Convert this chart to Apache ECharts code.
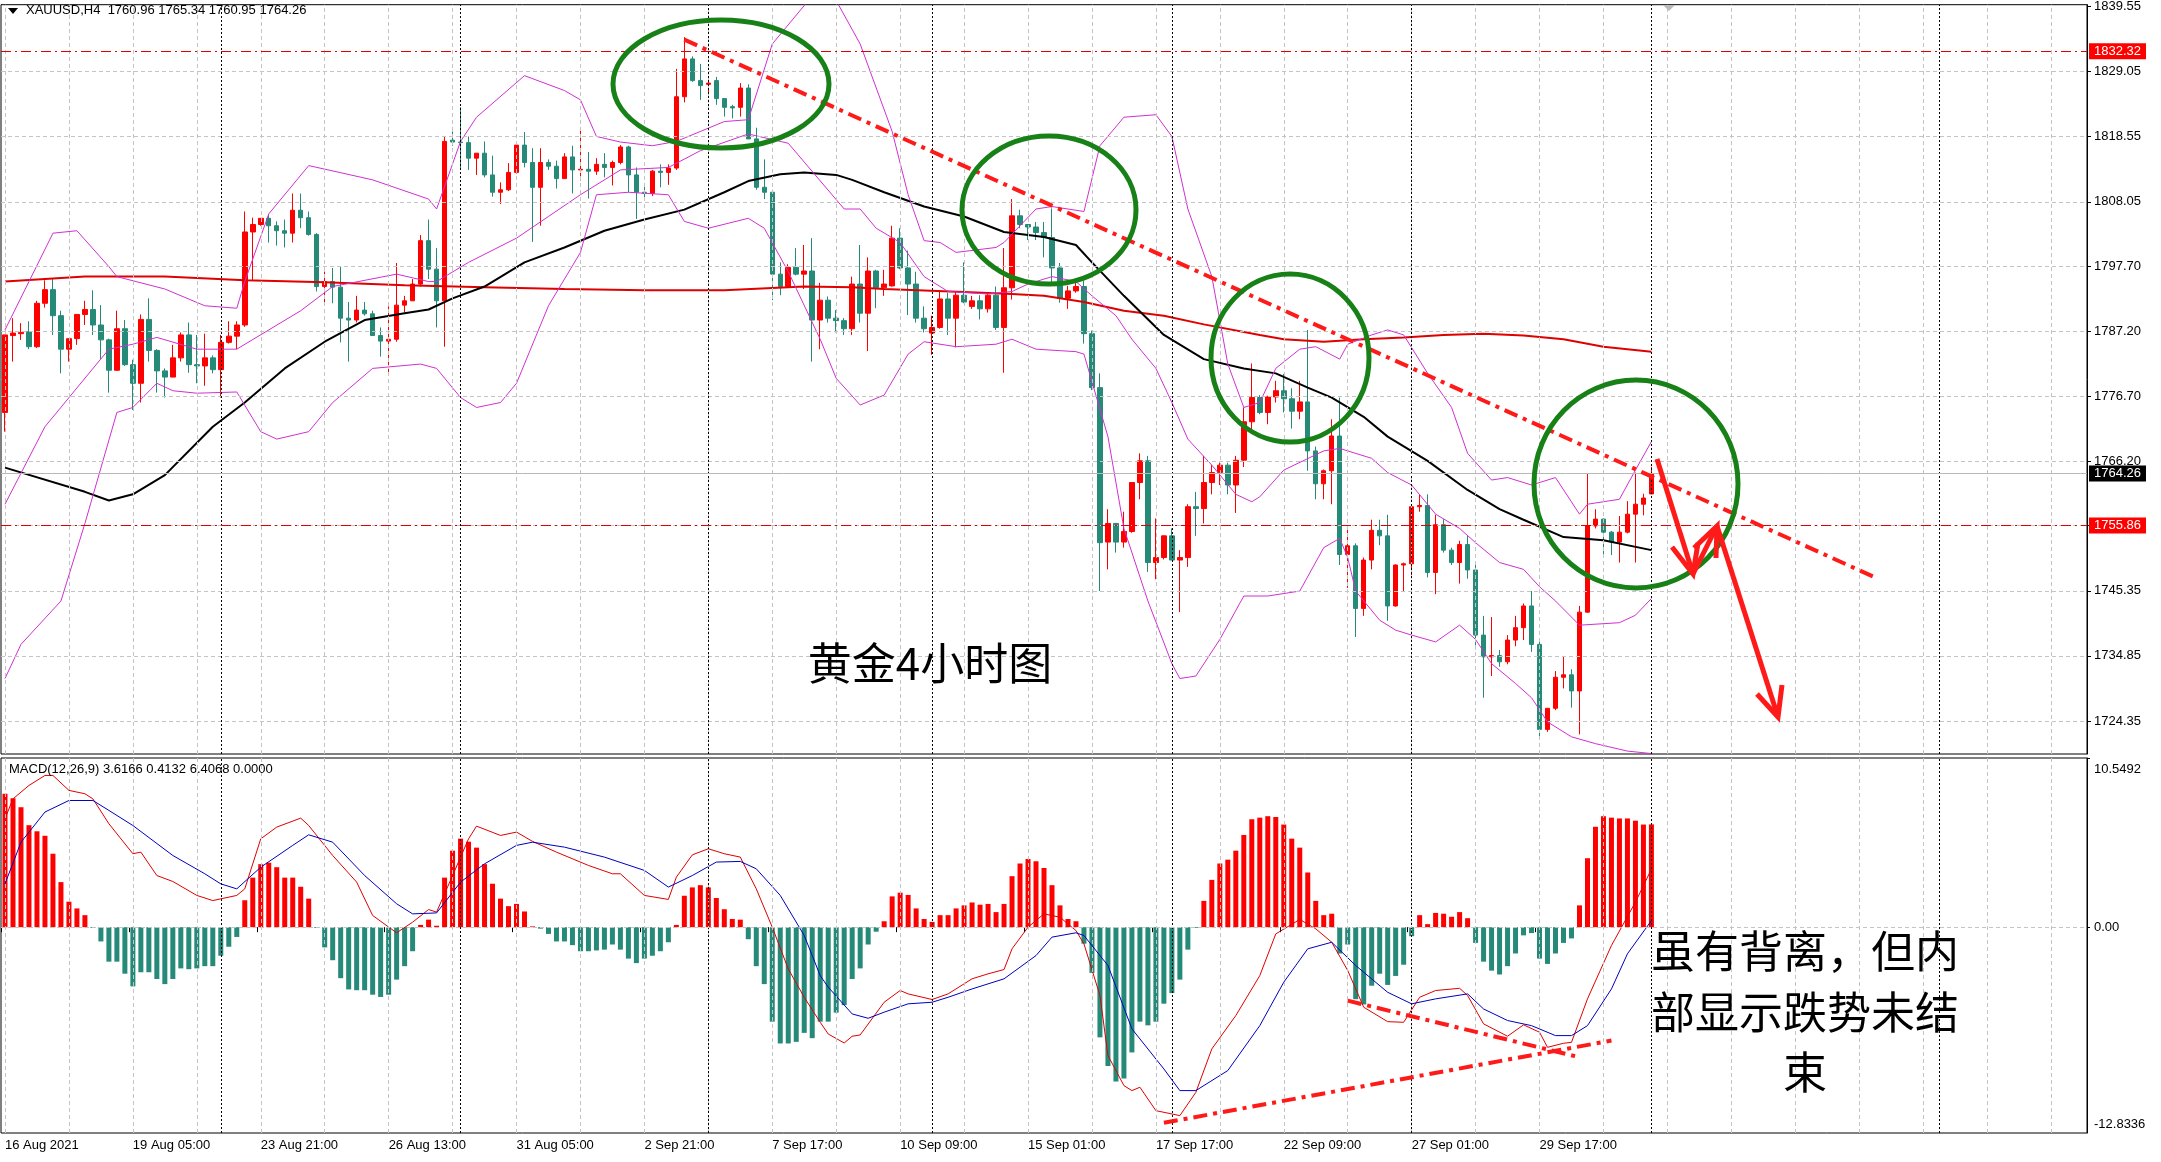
<!DOCTYPE html>
<html><head><meta charset="utf-8">
<script src="https://cdn.jsdelivr.net/npm/echarts@6/dist/echarts.min.js"></script>
<style>html,body{margin:0;padding:0;background:#fff}#c{width:2161px;height:1162px}</style>
</head><body><div id="c"></div>
<script>
const opens=[1774.1,1786.5,1786.8,1787.1,1784.7,1791.7,1793.9,1789.7,1784.3,1786.0,
1789.9,1790.7,1788.2,1785.8,1780.9,1787.6,1781.8,1778.8,1789.1,1784.1,
1780.8,1779.8,1782.9,1786.6,1781.8,1781.6,1782.9,1781.0,1785.4,1786.4,
1788.2,1803.2,1804.4,1805.4,1804.2,1803.4,1803.0,1806.7,1805.5,1802.8,
1794.4,1795.2,1794.3,1789.3,1789.0,1790.6,1790.0,1786.5,1785.6,1785.9,
1791.4,1792.1,1794.8,1801.8,1797.2,1792.1,1818.0,1817.7,1817.6,1815.1,
1815.9,1812.4,1809.6,1810.0,1812.8,1817.2,1814.4,1810.4,1814.4,1813.8,
1811.8,1815.3,1813.2,1813.3,1813.0,1814.1,1813.6,1814.4,1816.9,1812.4,
1809.6,1809.4,1813.0,1812.8,1813.5,1825.0,1831.1,1827.6,1827.0,1827.6,
1824.7,1823.4,1823.3,1826.4,1818.2,1810.4,1809.6,1796.4,1794.4,1797.5,
1796.4,1796.9,1789.0,1792.2,1789.3,1788.9,1787.6,1794.8,1790.1,1796.9,
1794.2,1794.5,1802.2,1797.4,1794.8,1789.3,1786.9,1787.8,1792.4,1789.3,
1793.0,1791.2,1792.1,1790.8,1793.0,1787.8,1794.2,1805.8,1804.4,1804.0,
1803.1,1802.3,1797.4,1792.5,1793.7,1794.4,1786.8,1778.1,1753.2,1756.2,
1753.2,1754.9,1762.8,1766.3,1749.9,1750.7,1754.2,1750.3,1750.7,1758.9,
1758.6,1762.8,1764.4,1765.6,1762.4,1766.4,1772.6,1776.5,1774.1,1776.6,
1777.6,1776.3,1774.3,1775.8,1767.9,1762.6,1764.7,1770.3,1751.2,1752.6,
1742.5,1750.3,1755.1,1754.2,1742.9,1749.5,1749.7,1758.9,1759.1,1748.3,
1756.0,1751.9,1749.9,1752.8,1748.7,1738.2,1734.7,1734.9,1733.9,1737.4,
1739.4,1742.9,1736.7,1723.0,1726.4,1731.4,1731.8,1729.2,1741.9,1755.8,
1756.9,1754.8,1753.2,1754.8,1757.7,1759.3,1760.96];
const closes=[1786.6,1786.9,1787.0,1784.7,1791.7,1793.9,1789.7,1784.3,1786.0,1789.9,
1790.7,1788.2,1785.8,1780.9,1787.6,1781.8,1778.8,1789.1,1784.1,1780.8,
1779.8,1782.9,1786.6,1781.8,1781.6,1782.9,1781.0,1785.4,1786.4,1788.2,
1803.2,1804.4,1805.4,1804.2,1803.4,1803.0,1806.7,1805.5,1802.8,1794.4,
1795.2,1794.3,1789.3,1789.0,1790.6,1790.0,1786.5,1785.6,1785.9,1791.4,
1792.1,1794.8,1801.8,1797.2,1792.1,1817.8,1817.7,1817.6,1815.1,1815.9,
1812.4,1809.6,1810.0,1812.8,1817.2,1814.4,1810.4,1814.4,1813.8,1811.8,
1815.3,1813.2,1813.3,1813.0,1814.1,1813.6,1814.4,1816.9,1812.4,1809.6,
1809.4,1813.0,1812.8,1813.5,1825.0,1831.1,1827.6,1826.8,1827.2,1824.7,
1823.3,1823.2,1826.4,1818.2,1810.4,1809.6,1796.4,1794.4,1797.5,1796.4,
1796.9,1789.0,1792.2,1789.3,1788.9,1787.6,1794.8,1790.1,1796.9,1794.2,
1794.8,1802.2,1797.4,1794.8,1789.3,1787.6,1787.8,1792.4,1789.3,1793.0,
1791.9,1792.1,1790.8,1793.0,1787.8,1794.2,1805.8,1804.4,1804.0,1803.1,
1802.3,1797.4,1792.5,1793.7,1794.4,1786.8,1778.1,1753.1,1756.2,1753.2,
1754.9,1762.8,1766.3,1749.9,1750.7,1754.2,1750.3,1750.7,1758.9,1758.6,
1762.8,1764.4,1765.6,1762.4,1766.4,1772.6,1776.5,1774.1,1776.6,1777.6,
1776.3,1774.3,1775.8,1767.9,1762.6,1764.7,1770.3,1751.2,1752.6,1742.5,
1750.3,1755.1,1754.2,1742.9,1749.5,1749.7,1758.9,1759.1,1748.3,1756.0,
1751.9,1749.9,1752.8,1748.7,1738.2,1734.7,1734.9,1733.9,1737.4,1739.4,
1742.9,1736.7,1723.0,1726.4,1731.4,1731.8,1729.2,1741.9,1755.8,1756.9,
1754.8,1753.2,1754.8,1757.7,1759.3,1760.3,1764.26];
const lows=[1771.0,1782.3,1785.8,1784.3,1784.5,1791.0,1786.6,1780.4,1782.3,1785.0,
1788.2,1786.6,1782.7,1777.3,1780.8,1781.6,1774.5,1775.7,1782.3,1777.3,
1776.5,1779.8,1782.3,1780.5,1778.8,1778.4,1780.4,1776.5,1785.2,1784.3,
1787.9,1795.4,1804.2,1801.5,1801.0,1800.7,1801.5,1803.8,1802.6,1793.6,
1791.7,1791.7,1785.4,1782.3,1788.6,1789.7,1786.5,1783.1,1780.0,1785.5,
1790.2,1792.1,1794.4,1795.6,1787.8,1784.7,1817.1,1813.2,1813.2,1812.4,
1812.0,1808.9,1807.7,1809.8,1812.6,1813.6,1801.6,1804.2,1813.2,1810.2,
1811.8,1809.4,1811.5,1808.6,1812.4,1812.0,1810.7,1814.1,1809.6,1805.3,
1808.5,1809.0,1810.4,1810.8,1813.2,1824.1,1827.4,1824.5,1825.6,1823.7,
1821.8,1821.5,1821.8,1818.2,1810.0,1808.5,1792.2,1793.0,1794.2,1796.2,
1794.0,1782.3,1784.3,1788.6,1787.0,1786.6,1786.6,1788.6,1784.0,1790.9,
1792.9,1794.4,1797.2,1789.8,1788.6,1787.0,1783.4,1787.6,1786.6,1784.6,
1791.7,1790.8,1789.1,1790.2,1787.4,1780.5,1792.3,1803.8,1801.9,1801.9,
1799.1,1794.8,1791.8,1790.8,1793.4,1785.2,1777.7,1745.3,1748.8,1751.5,
1752.3,1754.7,1760.1,1748.4,1747.2,1750.4,1750.3,1741.9,1749.2,1754.2,
1756.2,1760.9,1762.4,1760.9,1757.9,1765.3,1771.4,1773.8,1772.2,1775.7,
1774.1,1771.5,1773.0,1764.7,1760.1,1760.1,1759.3,1749.5,1745.8,1737.9,
1741.3,1748.8,1752.7,1740.5,1742.8,1745.3,1747.3,1758.1,1747.5,1744.8,
1751.5,1749.5,1746.5,1747.3,1735.9,1728.1,1731.6,1733.1,1733.5,1736.4,
1737.4,1735.5,1721.5,1722.6,1726.1,1729.6,1726.5,1722.2,1741.8,1755.4,
1751.1,1751.1,1749.9,1754.6,1749.9,1757.5,1760.95];
const highs=[1786.6,1789.3,1788.5,1788.8,1792.1,1795.4,1795.6,1790.5,1786.0,1789.9,
1792.1,1793.8,1791.4,1786.0,1790.5,1789.0,1782.6,1789.9,1792.5,1784.3,
1781.2,1785.0,1787.0,1788.6,1786.6,1786.8,1783.3,1786.6,1788.8,1788.8,
1806.5,1805.5,1805.4,1806.1,1804.9,1805.2,1809.4,1809.4,1806.5,1803.0,
1796.8,1797.4,1797.7,1791.9,1792.9,1791.9,1790.5,1787.8,1791.2,1798.2,
1792.9,1795.6,1802.7,1805.2,1800.6,1818.6,1819.4,1823.3,1818.6,1815.9,
1817.8,1815.5,1811.2,1814.3,1817.4,1819.3,1816.7,1816.7,1814.9,1814.7,
1815.9,1817.1,1820.0,1816.1,1815.1,1815.9,1814.7,1817.2,1817.1,1813.6,
1810.7,1813.2,1814.1,1814.1,1829.5,1834.6,1831.5,1830.3,1827.7,1828.2,
1824.7,1823.7,1827.2,1827.0,1820.0,1814.9,1810.0,1798.3,1798.0,1800.6,
1801.1,1802.2,1795.0,1792.8,1790.6,1789.3,1796.0,1801.1,1799.1,1797.1,
1797.1,1804.2,1803.8,1800.2,1796.8,1791.2,1789.7,1793.8,1793.4,1793.6,
1798.3,1792.9,1793.0,1793.2,1794.4,1800.6,1808.5,1806.8,1804.4,1804.8,
1804.8,1807.0,1798.2,1794.5,1795.0,1795.3,1787.3,1780.4,1758.5,1756.3,
1758.1,1762.8,1767.5,1767.1,1757.0,1754.3,1755.4,1751.9,1759.3,1761.3,
1767.1,1765.6,1766.0,1766.0,1767.1,1774.9,1782.0,1776.9,1776.8,1779.2,
1780.3,1778.0,1779.2,1787.4,1768.6,1764.9,1773.0,1776.5,1755.7,1753.0,
1750.7,1756.8,1756.8,1757.6,1749.6,1749.9,1759.3,1760.9,1760.9,1757.6,
1756.9,1752.3,1753.4,1754.2,1749.5,1741.3,1741.1,1735.8,1738.2,1741.3,
1743.3,1745.3,1737.1,1726.4,1732.4,1734.7,1732.7,1742.9,1764.2,1758.5,
1757.0,1755.0,1757.4,1759.8,1764.4,1761.0,1765.34];

const maBlack=[[0,1765.2],[10,1761.3],[13,1759.9],[16,1760.9],[20,1764.0],[26,1771.8],[30,1775.7],[35,1781.2],[40,1785.5],[45,1789.0],[50,1790.1],[53,1790.7],[56,1792.5],[60,1794.4],[65,1798.3],[70,1800.7],[75,1803.4],[80,1805.2],[85,1806.8],[90,1809.6],[93,1811.4],[97,1812.5],[100,1812.8],[104,1812.4],[106,1811.6],[110,1809.6],[115,1807.3],[120,1805.7],[125,1803.2],[130,1802.4],[134,1801.1],[136,1798.3],[140,1792.9],[145,1786.6],[150,1782.7],[155,1781.2],[159,1780.4],[163,1778.1],[166,1776.5],[170,1773.4],[173,1770.2],[178,1766.3],[183,1761.6],[187,1758.5],[190,1756.8],[195,1754.0],[200,1753.5],[206,1751.9]];
const maRed=[[0,1795.2],[10,1796.0],[20,1796.0],[30,1795.4],[40,1795.1],[50,1794.6],[60,1794.3],[70,1794.0],[80,1793.8],[90,1793.8],[100,1794.4],[106,1794.3],[110,1794.0],[120,1793.5],[126,1793.2],[130,1792.9],[135,1791.9],[140,1790.5],[145,1789.7],[150,1788.3],[157,1786.6],[160,1785.9],[165,1785.5],[170,1785.9],[175,1786.2],[180,1786.6],[185,1786.8],[190,1786.5],[195,1785.9],[200,1784.7],[206,1783.9]];
const bbUpper=[[0,1787.4],[3,1795.2],[6,1803.0],[9,1803.4],[13,1797.6],[14,1796.0],[20,1794.0],[25,1791.3],[29,1790.9],[30,1795.2],[33,1806.1],[38,1813.9],[46,1811.6],[53,1808.5],[54,1806.9],[57,1817.8],[59,1821.7],[65,1828.4],[70,1826.0],[72,1824.5],[74,1818.6],[77,1817.7],[81,1817.1],[84,1817.8],[87,1819.4],[90,1821.0],[93,1821.3],[96,1833.5],[100,1839.7],[102,1843.5],[104,1840.5],[107,1833.5],[111,1819.4],[113,1809.2],[115,1801.8],[117,1801.5],[119,1799.9],[124,1800.7],[125,1801.5],[129,1806.9],[131,1807.3],[135,1806.5],[137,1817.1],[140,1821.7],[144,1822.1],[146,1818.6],[148,1806.9],[151,1796.0],[153,1781.9],[155,1774.9],[157,1775.7],[159,1781.2],[162,1784.3],[164,1784.7],[167,1782.7],[168,1785.1],[171,1786.6],[173,1787.4],[175,1786.6],[178,1780.4],[181,1774.9],[183,1767.5],[186,1763.2],[188,1763.6],[191,1762.4],[194,1763.6],[197,1757.7],[198,1759.3],[202,1760.1],[204,1764.8],[206,1769.4]];
const bbMiddle=[[0,1759.3],[5,1771.8],[13,1784.3],[16,1785.1],[19,1786.2],[24,1784.3],[29,1784.3],[37,1790.5],[41,1794.4],[49,1796.4],[53,1795.2],[54,1795.2],[58,1798.3],[64,1802.2],[68,1805.7],[72,1809.2],[77,1813.2],[83,1813.6],[87,1816.3],[93,1819.0],[98,1817.5],[105,1806.9],[107,1806.9],[109,1803.8],[112,1801.5],[115,1796.0],[118,1793.6],[123,1793.2],[126,1793.6],[128,1794.8],[131,1796.0],[134,1795.2],[136,1792.9],[139,1789.7],[141,1785.9],[144,1781.2],[146,1775.7],[148,1769.8],[151,1765.6],[154,1760.9],[156,1759.7],[157,1760.5],[160,1764.8],[165,1767.9],[167,1768.3],[171,1766.7],[173,1764.4],[176,1762.4],[179,1757.7],[182,1755.4],[184,1753.1],[187,1749.9],[190,1748.8],[192,1746.0],[194,1743.7],[197,1739.8],[202,1740.2],[204,1741.4],[206,1744.1]];
const bbLower=[[0,1731.2],[2,1736.7],[7,1743.7],[10,1756.2],[14,1774.1],[16,1774.9],[19,1778.8],[21,1777.6],[24,1777.2],[29,1777.4],[32,1771.0],[34,1769.8],[38,1771.0],[41,1775.7],[46,1781.2],[52,1781.9],[54,1781.2],[57,1776.5],[59,1774.9],[62,1775.7],[64,1778.8],[68,1791.3],[72,1799.9],[74,1809.2],[78,1809.6],[83,1809.2],[85,1804.9],[88,1803.8],[93,1805.4],[95,1803.8],[98,1796.8],[102,1785.9],[104,1779.6],[107,1775.3],[110,1776.9],[113,1783.5],[115,1785.5],[119,1784.7],[124,1785.1],[126,1785.9],[129,1784.3],[134,1783.9],[135,1783.5],[138,1770.2],[140,1755.4],[143,1743.7],[146,1733.6],[147,1731.2],[149,1731.6],[152,1737.5],[155,1744.5],[158,1744.5],[162,1745.3],[165,1752.3],[167,1753.8],[168,1750.7],[169,1745.3],[172,1740.6],[174,1739.0],[176,1738.2],[179,1737.1],[182,1739.8],[184,1737.5],[186,1733.6],[189,1730.4],[191,1728.1],[193,1724.2],[196,1721.8],[199,1720.7],[203,1719.5],[206,1719.1]];

const macdHist=[8.32,8.04,7.48,6.36,5.98,5.70,4.58,2.81,1.59,1.17,0.75,-0.05,
-0.89,-2.15,-2.15,-2.90,-3.69,-2.81,-2.81,-3.23,-3.55,-3.23,-2.57,-2.62,-2.57,-2.43,-2.43,-1.78,-1.22,-0.61,
1.68,3.09,3.93,4.02,3.74,3.09,3.09,2.52,1.78,
-0.05,-1.26,-2.06,-3.18,-3.88,-3.93,-3.93,-4.21,-4.35,-4.21,-3.27,-2.43,-1.50,
0.14,0.47,0.09,3.09,4.77,5.52,5.33,4.96,3.93,2.71,1.78,1.31,1.45,0.98,0.05,
-0.09,-0.42,-0.89,-0.89,-1.12,-1.50,-1.50,-1.45,-1.40,-1.08,-1.40,-1.96,-2.24,-1.96,-1.78,-1.50,-0.94,
0.14,1.96,2.48,2.62,2.48,1.82,1.12,0.51,0.47,
-0.75,-2.43,-3.55,-5.89,-7.25,-7.25,-7.15,-6.59,-6.92,-5.89,-5.89,-5.33,-4.86,-3.23,-2.57,-1.08,-0.28,
0.37,1.92,2.15,2.01,1.17,0.51,0.33,0.75,0.75,1.17,1.36,1.54,1.40,1.45,0.94,1.45,3.18,3.97,4.25,4.11,3.69,2.62,1.36,0.51,0.37,
-1.03,-2.85,-6.87,-8.65,-9.63,-9.44,-7.81,-5.89,-6.12,-5.89,-4.77,-4.11,-3.27,-1.40,-0.05,
1.64,2.95,3.97,4.21,4.77,5.75,6.73,6.83,6.92,6.87,6.40,5.52,4.96,3.41,1.64,0.75,0.84,
-1.64,-1.08,-4.49,-4.82,-3.65,-2.90,-3.60,-3.04,-2.34,-0.56,
0.75,0.19,0.89,0.84,0.65,0.94,0.56,
-0.98,-2.15,-2.71,-2.95,-2.43,-1.64,-0.51,-0.37,-1.96,-2.29,-1.64,-0.98,-0.70,
1.36,4.30,6.26,6.92,6.83,6.78,6.78,6.64,6.40,6.41];
const macdMain=[[0,6.76],[1,8.0],[3,8.84],[5,9.46],[6,9.46],[8,8.53],[10,8.32],[11,8.0],[13,6.45],[16,4.58],[17,4.68],[19,3.22],[21,2.85],[24,1.98],[26,1.66],[29,1.98],[30,2.39],[32,5.51],[34,6.24],[37,6.8],[38,6.34],[41,4.47],[44,2.81],[46,0.73],[49,-0.35],[51,0.31],[53,1.1],[54,0.94],[56,3.22],[58,5.51],[59,6.3],[62,5.72],[64,5.93],[66,5.35],[69,4.68],[73,3.85],[76,3.33],[77,3.33],[80,1.98],[83,1.73],[84,3.12],[86,4.51],[88,4.89],[90,4.58],[92,4.37],[94,2.39],[96,0],[98,-2.6],[100,-4.37],[102,-5.93],[103,-6.66],[105,-7.22],[106,-6.8],[107,-6.72],[110,-4.68],[112,-3.95],[113,-4.16],[116,-4.51],[118,-4.16],[121,-3.22],[123,-2.91],[125,-2.64],[126,-1.35],[128,0],[130,0.83],[132,0.62],[134,-0.21],[135,-1.04],[137,-4.26],[138,-8.0],[140,-9.88],[141,-10.19],[142,-9.98],[144,-11.44],[147,-11.75],[149,-10.3],[151,-7.59],[154,-5.51],[157,-3.02],[159,-0.42],[162,0.48],[164,-0.1],[166,-0.94],[168,-2.7],[170,-4.99],[173,-5.89],[175,-5.93],[177,-4.37],[179,-3.95],[182,-3.81],[183,-4.26],[185,-6.03],[188,-6.8],[190,-6.09],[192,-6.55],[193,-7.49],[195,-7.24],[196,-7.18],[198,-4.47],[201,-1.14],[204,1.56],[206,3.62]];
const macdSignal=[[0,2.7],[2,5.3],[5,7.18],[8,7.9],[11,7.9],[13,7.28],[16,6.34],[21,4.47],[25,3.33],[27,2.7],[29,2.39],[32,3.74],[36,5.1],[38,5.76],[41,5.3],[45,3.22],[49,1.46],[51,0.83],[54,0.89],[57,2.81],[60,3.95],[64,5.1],[66,5.3],[70,4.99],[75,4.37],[80,3.54],[83,2.5],[86,3.22],[89,4.06],[92,4.1],[94,3.64],[97,1.98],[100,-0.52],[102,-3.02],[103,-3.74],[106,-5.41],[108,-5.68],[110,-5.3],[113,-4.78],[116,-4.68],[118,-4.37],[121,-3.85],[125,-3.22],[129,-1.77],[131,-0.62],[134,-0.35],[135,-0.52],[138,-2.39],[141,-6.34],[145,-8.84],[147,-10.19],[149,-10.19],[153,-8.94],[157,-6.14],[160,-3.43],[163,-1.35],[166,-0.94],[169,-2.39],[173,-4.06],[176,-4.78],[179,-4.47],[183,-4.16],[185,-5.1],[188,-5.82],[191,-6.14],[194,-6.76],[196,-6.76],[198,-6.14],[201,-3.85],[203,-1.66],[206,0.41]];

const dateLabels=['16 Aug 2021','19 Aug 05:00','23 Aug 21:00','26 Aug 13:00','31 Aug 05:00','2 Sep 21:00','7 Sep 17:00','10 Sep 09:00','15 Sep 01:00','17 Sep 17:00','22 Sep 09:00','27 Sep 01:00','29 Sep 17:00'];
const priceTicks=[1839.55,1829.05,1818.55,1808.05,1797.70,1787.20,1776.70,1766.20,1745.35,1734.85,1724.35];
const priceGridVals=[1829.05,1818.55,1808.05,1797.70,1787.20,1776.70,1766.20,1755.85,1745.35,1734.85,1724.35];
const macdMax=10.5492, macdMin=-12.8336;
const macdLabelPos=[9.86,0,-12.27];
const macdTickText=['10.5492','0.00','-12.8336'];
const weekSeparators=[27,57,88,116,146,176,206,242];
const levels={resistance:1832.32,support:1755.86,last:1764.26};
const priceTrend=[[85,1834.2],[234,1747.5]];
const macdTrends=[[[145,-12.2],[201,-7.07]],[[168,-4.58],[197,-8.11]]];

const N=261;
const cats=Array.from({length:N},(_,i)=>String(i));
const candleData=opens.map((o,i)=>[o,closes[i],lows[i],highs[i]]);
const FONT='Liberation Sans';
const vgrid=[];for(let i=0;i<N;i+=8)vgrid.push({xAxis:i});
const dashGray={type:[4,3],color:'#c4c4c4',width:1};
const sepStyle={type:[2,2],color:'#000',width:1};
const dashDot=[10,4,2,4];

const chart=echarts.init(document.getElementById('c'));
const xBase={type:'category',data:cats,boundaryGap:true,axisLine:{show:false},axisTick:{show:false},axisLabel:{show:false},splitLine:{show:false}};
chart.setOption({
 animation:false,backgroundColor:'#fff',
 grid:[{left:1,top:4,width:2086,height:750,show:true,borderColor:'#000',borderWidth:1},
       {left:1,top:758,width:2086,height:375,show:true,borderColor:'#000',borderWidth:1}],
 xAxis:[Object.assign({gridIndex:0},xBase),
   Object.assign({},xBase,{gridIndex:1,
     axisTick:{show:true,interval:(i)=>i%16===0&&i<=192,length:5,lineStyle:{color:'#000'}},
     axisLabel:{show:true,interval:(i)=>i%16===0&&i<=192,formatter:(v,i)=>dateLabels[i/16]||'',align:'left',margin:6,fontFamily:FONT,fontSize:13,color:'#000'}})],
 yAxis:[{gridIndex:0,type:'value',position:'right',min:1719.03,max:1839.84,splitLine:{show:false},
     axisLine:{show:true,lineStyle:{color:'#000'}},
     axisTick:{show:true,customValues:priceTicks.concat([1755.85]),length:4,lineStyle:{color:'#000'}},
     axisLabel:{customValues:priceTicks,formatter:v=>v.toFixed(2),fontFamily:FONT,fontSize:13,color:'#000',margin:7}},
   {gridIndex:1,type:'value',position:'right',min:macdMin,max:macdMax,splitLine:{show:false},
     axisLine:{show:true,lineStyle:{color:'#000'}},
     axisTick:{show:true,customValues:[macdMax,0],length:3,lineStyle:{color:'#000'}},
     axisLabel:{customValues:macdLabelPos,formatter:v=>macdTickText[macdLabelPos.indexOf(v)],fontFamily:FONT,fontSize:13,color:'#000',margin:7}}],
 series:[
  {type:'line',xAxisIndex:0,yAxisIndex:0,data:[],silent:true,z:1,
   markLine:{silent:true,symbol:['none','none'],label:{show:false},animation:false,data:
     vgrid.map(d=>Object.assign({lineStyle:dashGray},d))
     .concat(priceGridVals.map(v=>({yAxis:v,lineStyle:dashGray})))
     .concat(weekSeparators.map(i=>({xAxis:i,lineStyle:sepStyle})))
     .concat([{yAxis:levels.last,lineStyle:{type:'solid',color:'#b8b8b8',width:1},
        label:{show:true,position:'end',formatter:levels.last.toFixed(2),backgroundColor:'#000',color:'#fff',padding:[2,5,1,5],fontFamily:FONT,fontSize:13,distance:2}},
       {yAxis:levels.resistance,lineStyle:{type:dashDot,color:'#e00000',width:1},
        label:{show:true,position:'end',formatter:levels.resistance.toFixed(2),backgroundColor:'#ff0000',color:'#fff',padding:[2,5,1,5],fontFamily:FONT,fontSize:13,distance:2}},
       {yAxis:levels.support,lineStyle:{type:dashDot,color:'#e00000',width:1},
        label:{show:true,position:'end',formatter:levels.support.toFixed(2),backgroundColor:'#ff0000',color:'#fff',padding:[2,5,1,5],fontFamily:FONT,fontSize:13,distance:2}}])}},
  {type:'line',xAxisIndex:1,yAxisIndex:1,data:[],silent:true,z:1,
   markLine:{silent:true,symbol:['none','none'],label:{show:false},animation:false,data:
     vgrid.map(d=>Object.assign({lineStyle:dashGray},d)).concat(weekSeparators.map(i=>({xAxis:i,lineStyle:sepStyle})))
     .concat([{yAxis:0,lineStyle:dashGray}])}},
  {type:'candlestick',xAxisIndex:0,yAxisIndex:0,data:candleData,barWidth:5,z:3,
   itemStyle:{color:'#ff0000',color0:'#268a78',borderColor:'#ff0000',borderColor0:'#268a78',borderWidth:1}},
  {type:'line',xAxisIndex:0,yAxisIndex:0,data:maRed,showSymbol:false,z:4,lineStyle:{color:'#e00000',width:2}},
  {type:'line',xAxisIndex:0,yAxisIndex:0,data:maBlack,showSymbol:false,z:4,lineStyle:{color:'#000',width:2}},
  {type:'line',xAxisIndex:0,yAxisIndex:0,data:bbUpper,showSymbol:false,z:4,lineStyle:{color:'#d030d0',width:1}},
  {type:'line',xAxisIndex:0,yAxisIndex:0,data:bbMiddle,showSymbol:false,z:4,lineStyle:{color:'#d030d0',width:1}},
  {type:'line',xAxisIndex:0,yAxisIndex:0,data:bbLower,showSymbol:false,z:4,lineStyle:{color:'#d030d0',width:1}},
  {type:'line',xAxisIndex:0,yAxisIndex:0,data:[],silent:true,z:6,
   markLine:{silent:true,symbol:['none','none'],label:{show:false},animation:false,
     lineStyle:{type:[14,6,4,6],color:'#ff1a1a',width:4},
     data:[[{coord:[priceTrend[0][0],priceTrend[0][1]]},{coord:[priceTrend[1][0],priceTrend[1][1]]}]]}},
  {type:'bar',xAxisIndex:1,yAxisIndex:1,data:macdHist,barWidth:5,z:3,
   itemStyle:{color:p=>p.value>=0?'#ff0000':'#268a78'}},
  {type:'line',xAxisIndex:1,yAxisIndex:1,data:macdMain,showSymbol:false,z:4,lineStyle:{color:'#e00000',width:1}},
  {type:'line',xAxisIndex:1,yAxisIndex:1,data:macdSignal,showSymbol:false,z:4,lineStyle:{color:'#0000c0',width:1}},
  {type:'line',xAxisIndex:1,yAxisIndex:1,data:[],silent:true,z:6,
   markLine:{silent:true,symbol:['none','none'],label:{show:false},animation:false,
     lineStyle:{type:[14,6,4,6],color:'#ff1a1a',width:4},
     data:macdTrends.map(t=>[{coord:t[0]},{coord:t[1]}])}}
 ],
 graphic:[
  {type:'polygon',shape:{points:[[8,8],[18,8],[13,14]]},style:{fill:'#000'},z:100},
  {type:'text',left:26,top:4,style:{text:'XAUUSD,H4  1760.96 1765.34 1760.95 1764.26',font:'13px "Liberation Sans"',fill:'#000'},z:100},
  {type:'polygon',shape:{points:[[1663,5],[1675,5],[1669,11]]},style:{fill:'#bbb'},z:100},
  {type:'text',left:9,top:763,style:{text:'MACD(12,26,9) 3.6166 0.4132 6.4068 0.0000',font:'13px "Liberation Sans"',fill:'#000'},z:100},
  {type:'ellipse',shape:{cx:721,cy:84,rx:108,ry:64},style:{fill:null,stroke:'#178017',lineWidth:5},z:100},
  {type:'ellipse',shape:{cx:1049,cy:210,rx:87,ry:74},style:{fill:null,stroke:'#178017',lineWidth:5},z:100},
  {type:'ellipse',shape:{cx:1290,cy:358,rx:79,ry:84},style:{fill:null,stroke:'#178017',lineWidth:5},z:100},
  {type:'ellipse',shape:{cx:1636,cy:484,rx:102,ry:104},style:{fill:null,stroke:'#178017',lineWidth:5},z:100},
  {type:'polyline',shape:{points:[[1657,459],[1693,574]]},style:{stroke:'#ff1a1a',lineWidth:5},z:101},
  {type:'polyline',shape:{points:[[1672,547],[1693,574],[1698,543]]},style:{stroke:'#ff1a1a',lineWidth:5,fill:null},z:101},
  {type:'polyline',shape:{points:[[1693,574],[1717,526]]},style:{stroke:'#ff1a1a',lineWidth:5},z:101},
  {type:'polyline',shape:{points:[[1694,548],[1717,526],[1716,558]]},style:{stroke:'#ff1a1a',lineWidth:5,fill:null},z:101},
  {type:'polyline',shape:{points:[[1717,526],[1778,717]]},style:{stroke:'#ff1a1a',lineWidth:5},z:101},
  {type:'polyline',shape:{points:[[1757,694],[1778,717],[1782,685]]},style:{stroke:'#ff1a1a',lineWidth:5,fill:null},z:101},
  {type:'text',x:930,y:663,style:{text:'黄金4小时图',font:'44px "Noto Sans CJK SC"',fill:'#000',align:'center',verticalAlign:'middle'},z:100},
  {type:'text',x:1805,y:951,style:{text:'虽有背离，但内',font:'44px "Noto Sans CJK SC"',fill:'#000',align:'center',verticalAlign:'middle'},z:100},
  {type:'text',x:1805,y:1012,style:{text:'部显示跌势未结',font:'44px "Noto Sans CJK SC"',fill:'#000',align:'center',verticalAlign:'middle'},z:100},
  {type:'text',x:1805,y:1072,style:{text:'束',font:'44px "Noto Sans CJK SC"',fill:'#000',align:'center',verticalAlign:'middle'},z:100}
 ]
});
</script></body></html>
